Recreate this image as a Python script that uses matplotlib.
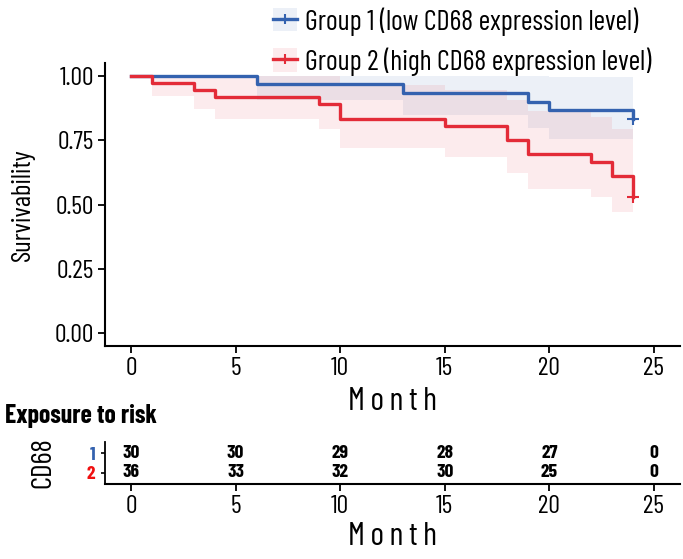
import numpy as np
import matplotlib
matplotlib.use("Agg")
from matplotlib import pyplot as plt
from matplotlib.lines import Line2D
from matplotlib.patches import Patch

plt.rcParams['font.family'] = ['Barlow Condensed', 'DejaVu Sans']

# Kaplan-Meier steps
t1 = [0, 6, 13, 19, 20, 24]
s1 = [1.0, 0.9667, 0.9333, 0.9, 0.8667, 0.8333]
lo1 = [1.0, 0.9045, 0.8482, 0.7988, 0.7532, 0.710]
hi1 = [1.0, 1.0, 1.0, 1.0, 0.997, 0.978]

t2 = [0, 1, 3, 4, 9, 10, 15, 18, 19, 22, 23, 24]
s2 = [1.0, 0.9722, 0.9444, 0.9167, 0.8889, 0.8333, 0.8056, 0.75, 0.6944, 0.6667, 0.6111, 0.5278]
lo2 = [1.0, 0.920, 0.8725, 0.8307, 0.7919, 0.7201, 0.6861, 0.6211, 0.5592, 0.5291, 0.4709, 0.3875]
hi2 = [1.0, 1.0, 1.0, 1.0, 0.9977, 0.9644, 0.9458, 0.9057, 0.8625, 0.8399, 0.7930, 0.719]

labels = ['Group 1 (low CD68 expression level)', 'Group 2 (high CD68 expression level)']

# number at risk
risk_times = [0, 5, 10, 15, 20, 25]
risk1 = [30, 30, 29, 28, 27, 0]
risk2 = [36, 33, 32, 30, 25, 0]

blue = '#3462AF'
red = '#E32B38'
month_label = '\u2006'.join('Month')

fig = plt.figure(figsize=(6.83, 5.59), dpi=100)
ax = fig.add_axes([105/683, 1-346/559, 575/683, 283/559])

ax.fill_between(t1, lo1, hi1, step='post', color=blue, alpha=0.09, lw=0)
ax.fill_between(t2, lo2, hi2, step='post', color=red, alpha=0.09, lw=0)
ax.step(t1, s1, where='post', color=blue, lw=2.4)
ax.step(t2, s2, where='post', color=red, lw=2.4)
# censor marks
ax.plot(t1[-1], s1[-1], marker='+', color=blue, ms=8, mew=1.5)
ax.plot(t2[-1], s2[-1], marker='+', color=red, ms=8, mew=1.5)

ax.set_xlim(-1.25, 26.25)
ax.set_ylim(-0.05, 1.05)
ax.set_xticks([0, 5, 10, 15, 20, 25])
ax.set_yticks([0, 0.25, 0.5, 0.75, 1.0])
ax.set_yticklabels(['0.00', '0.25', '0.50', '0.75', '1.00'])
for sp in ['top', 'right']:
    ax.spines[sp].set_visible(False)
for sp in ['left', 'bottom']:
    ax.spines[sp].set_linewidth(1.5)
ax.tick_params(labelsize=18.5, width=1.3, length=5, colors='black', pad=3)
ax.set_ylabel('Survivability', fontsize=19.5, labelpad=14)
ax.set_xlabel(month_label, fontsize=23.5, labelpad=5)

handles = [
    (Patch(facecolor=blue, alpha=0.09, lw=0), Line2D([], [], color=blue, lw=2.4, marker='+', ms=7, mew=1.5)),
    (Patch(facecolor=red, alpha=0.09, lw=0), Line2D([], [], color=red, lw=2.4, marker='+', ms=7, mew=1.5)),
]
fig.legend(handles, labels, loc='upper left', bbox_to_anchor=(273/683, 1-7/559),
           frameon=False, fontsize=20.3, handlelength=0.85, handleheight=0.9,
           handletextpad=0.3, labelspacing=0.42, borderpad=0, borderaxespad=0)

# risk table
rax = fig.add_axes([105/683, 1-484/559, 575/683, 42/559])
for i, tt in enumerate(risk_times):
    rax.text(tt, 1, str(risk1[i]), ha='center', va='center', fontsize=14, fontweight='bold')
    rax.text(tt, 2, str(risk2[i]), ha='center', va='center', fontsize=14, fontweight='bold')
rax.set_xlim(-1.25, 26.25)
rax.set_ylim(2.6, 0.4)
rax.set_yticks([1, 2])
rax.set_yticklabels(['1', '2'])
rax.get_yticklabels()[0].set_color(blue)
rax.get_yticklabels()[1].set_color('#F01010')
for lab in rax.get_yticklabels():
    lab.set_fontweight('bold')
rax.set_xticks([0, 5, 10, 15, 20, 25])
for sp in ['top', 'right']:
    rax.spines[sp].set_visible(False)
rax.spines['left'].set_linewidth(1.3)
rax.spines['bottom'].set_linewidth(1.5)
rax.tick_params(axis='y', labelsize=14, width=1.2, length=3, pad=4)
rax.tick_params(axis='x', labelsize=18.5, width=1.3, length=5, pad=3)
rax.set_xlabel(month_label, fontsize=23.5, labelpad=3)
rax.set_ylabel('CD68', fontsize=21, labelpad=22)
fig.text(5/683, 1-416/559, 'Exposure to risk', fontsize=18.5, fontweight='bold', va='center')

fig.savefig('out.png', dpi=100)
